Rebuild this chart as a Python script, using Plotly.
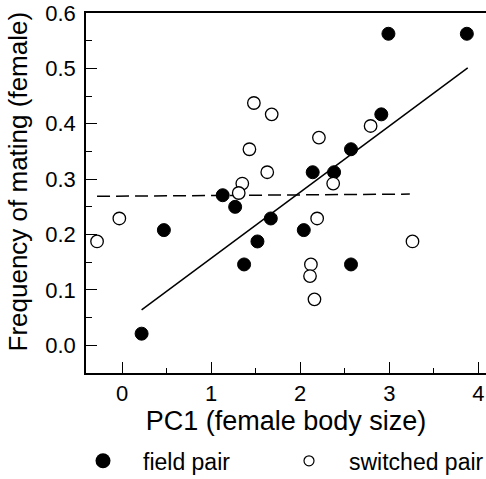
import plotly.graph_objects as go

# Field pair (filled circles)
field_x = [2.99, 3.87, 2.91, 2.57, 2.14, 2.38, 1.13, 1.27, 1.67, 0.47, 2.04, 1.52, 1.37, 2.57, 0.22]
field_y = [0.5625, 0.5625, 0.417, 0.354, 0.3125, 0.3125, 0.271, 0.250, 0.229, 0.208, 0.208, 0.1875, 0.146, 0.146, 0.021]

# Switched pair (open circles)
switched_x = [1.48, 1.68, 2.21, 2.79, 1.43, 1.63, 1.35, 2.37, 1.31, -0.03, -0.28, 2.19, 2.12, 2.11, 2.16, 3.26]
switched_y = [0.4375, 0.417, 0.375, 0.396, 0.354, 0.3125, 0.292, 0.292, 0.275, 0.229, 0.1875, 0.229, 0.146, 0.125, 0.083, 0.1875]

# Regression lines (endpoints)
fit_field_x = [0.22, 3.88]
fit_field_y = [0.064, 0.501]
fit_switched_x = [-0.28, 3.23]
fit_switched_y = [0.269, 0.273]

x_ticks = [0, 1, 2, 3, 4]
y_ticks = [0.0, 0.1, 0.2, 0.3, 0.4, 0.5, 0.6]

FONT = "Liberation Sans, Arial, sans-serif"

fig = go.Figure()

fig.add_trace(go.Scatter(x=fit_field_x, y=fit_field_y, mode="lines",
                         line=dict(color="black", width=1.5), showlegend=False, hoverinfo="skip"))
fig.add_trace(go.Scatter(x=fit_switched_x, y=fit_switched_y, mode="lines",
                         line=dict(color="black", width=1.5, dash="13px,6px"), showlegend=False, hoverinfo="skip"))

fig.add_trace(go.Scatter(x=field_x, y=field_y, mode="markers",
                         marker=dict(size=13, color="black", line=dict(color="black", width=1)),
                         showlegend=False))
fig.add_trace(go.Scatter(x=switched_x, y=switched_y, mode="markers",
                         marker=dict(size=12.5, color="white", line=dict(color="black", width=1.3)),
                         showlegend=False))

# legend entries
fig.add_trace(go.Scatter(x=[None], y=[None], mode="markers", name="field pair", legend="legend",
                         marker=dict(size=15, color="black")))
fig.add_trace(go.Scatter(x=[None], y=[None], mode="markers", name="switched pair", legend="legend2",
                         marker=dict(size=10, color="white", line=dict(color="black", width=1.2))))

leg_common = dict(orientation="h", yanchor="middle", y=-0.244, xanchor="left",
                  font=dict(size=23, family=FONT), itemwidth=70, itemsizing="trace",
                  bgcolor="rgba(0,0,0,0)")

fig.update_layout(
    width=486, height=479,
    margin=dict(l=86, r=0, t=13, b=106, autoexpand=False),
    plot_bgcolor="white", paper_bgcolor="white",
    font=dict(family=FONT, color="black"),
    showlegend=True,
    legend=dict(x=-0.0575, **leg_common),
    legend2=dict(x=0.4575, **leg_common),
    annotations=[dict(text="Frequency of mating (female)", textangle=-90,
                      xref="paper", yref="paper", x=-0.17, y=0.532,
                      xanchor="center", yanchor="middle", showarrow=False,
                      font=dict(size=26, family=FONT, color="black"))],
)

fig.update_xaxes(
    range=[-0.404, 4.085], tickvals=x_ticks, ticktext=[str(v) for v in x_ticks],
    ticks="inside", ticklen=11, tickwidth=1.3, tickcolor="black",
    minor=dict(dtick=0.5, tick0=0, ticks="inside", ticklen=5, tickwidth=1, tickcolor="black"),
    showline=True, linecolor="black", linewidth=1.5, mirror=True,
    showgrid=False, zeroline=False,
    tickfont=dict(size=22, family=FONT), ticklabelstandoff=0,
    title=dict(text="PC1 (female body size)", font=dict(size=27, family=FONT), standoff=3),
)
fig.update_yaxes(
    range=[-0.05, 0.6], tickvals=y_ticks, ticktext=[f"{v:.1f}" for v in y_ticks],
    ticks="inside", ticklen=11, tickwidth=1.3, tickcolor="black",
    minor=dict(dtick=0.05, tick0=0, ticks="inside", ticklen=6, tickwidth=1, tickcolor="black"),
    showline=True, linecolor="black", linewidth=1.5, mirror=False,
    showgrid=False, zeroline=False,
    tickfont=dict(size=22, family=FONT), ticklabelstandoff=4,
)

fig.write_html("out.html")
